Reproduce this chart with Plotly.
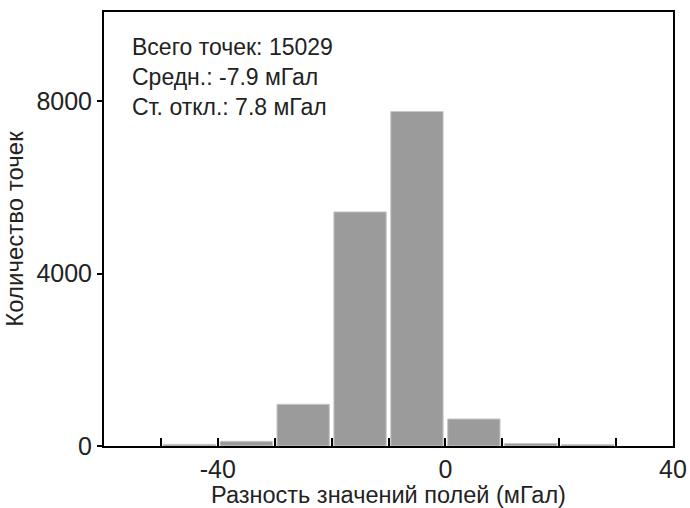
import plotly.graph_objects as go

# Histogram of field differences, 10 mGal bins
bin_centers = [-45, -35, -25, -15, -5, 5, 15, 25]
counts = [38, 109, 968, 5432, 7760, 627, 60, 35]

x_tick_vals = [-50, -40, -30, -20, -10, 0, 10, 20, 30, 40]
x_tick_text = ["", "-40", "", "", "", "0", "", "", "", "40"]
y_tick_vals = [0, 4000, 8000]

stats_lines = ["Всего точек: 15029", "Средн.: -7.9 мГал", "Ст. откл.: 7.8 мГал"]

FONT = "Liberation Sans, Arial, sans-serif"
TEXT_COLOR = "#222222"

fig = go.Figure(
    go.Bar(
        x=bin_centers,
        y=counts,
        width=9.2,
        marker=dict(color="#9b9b9b", line=dict(color="#c8c8c8", width=1)),
    )
)

fig.add_annotation(
    x=0.046, y=0.955, xref="paper", yref="paper",
    xanchor="left", yanchor="top", align="left",
    text="<br>".join(stats_lines), showarrow=False,
    font=dict(family=FONT, size=23, color=TEXT_COLOR),
)

fig.update_layout(
    width=690, height=508,
    margin=dict(l=104, r=17, t=12, b=62),
    paper_bgcolor="white", plot_bgcolor="white",
    showlegend=False,
    font=dict(family=FONT, color=TEXT_COLOR),
    xaxis=dict(
        range=[-60, 40],
        tickvals=x_tick_vals, ticktext=x_tick_text,
        ticks="inside", ticklen=8, tickwidth=1.5, tickcolor="black",
        showline=True, linecolor="black", linewidth=2, mirror=True,
        showgrid=False, zeroline=False, automargin=False,
        tickfont=dict(size=25),
        title=dict(text="Разность значений полей (мГал)", font=dict(size=23.5), standoff=0),
    ),
    yaxis=dict(
        range=[0, 10070],
        tickvals=y_tick_vals,
        ticks="outside", ticklen=5, tickwidth=1.5, tickcolor="black",
        showline=True, linecolor="black", linewidth=2, mirror=True,
        showgrid=False, zeroline=False, automargin=False,
        tickfont=dict(size=25),
        title=dict(text="Количество точек", font=dict(size=24), standoff=6),
    ),
)

fig.write_html("out.html")
